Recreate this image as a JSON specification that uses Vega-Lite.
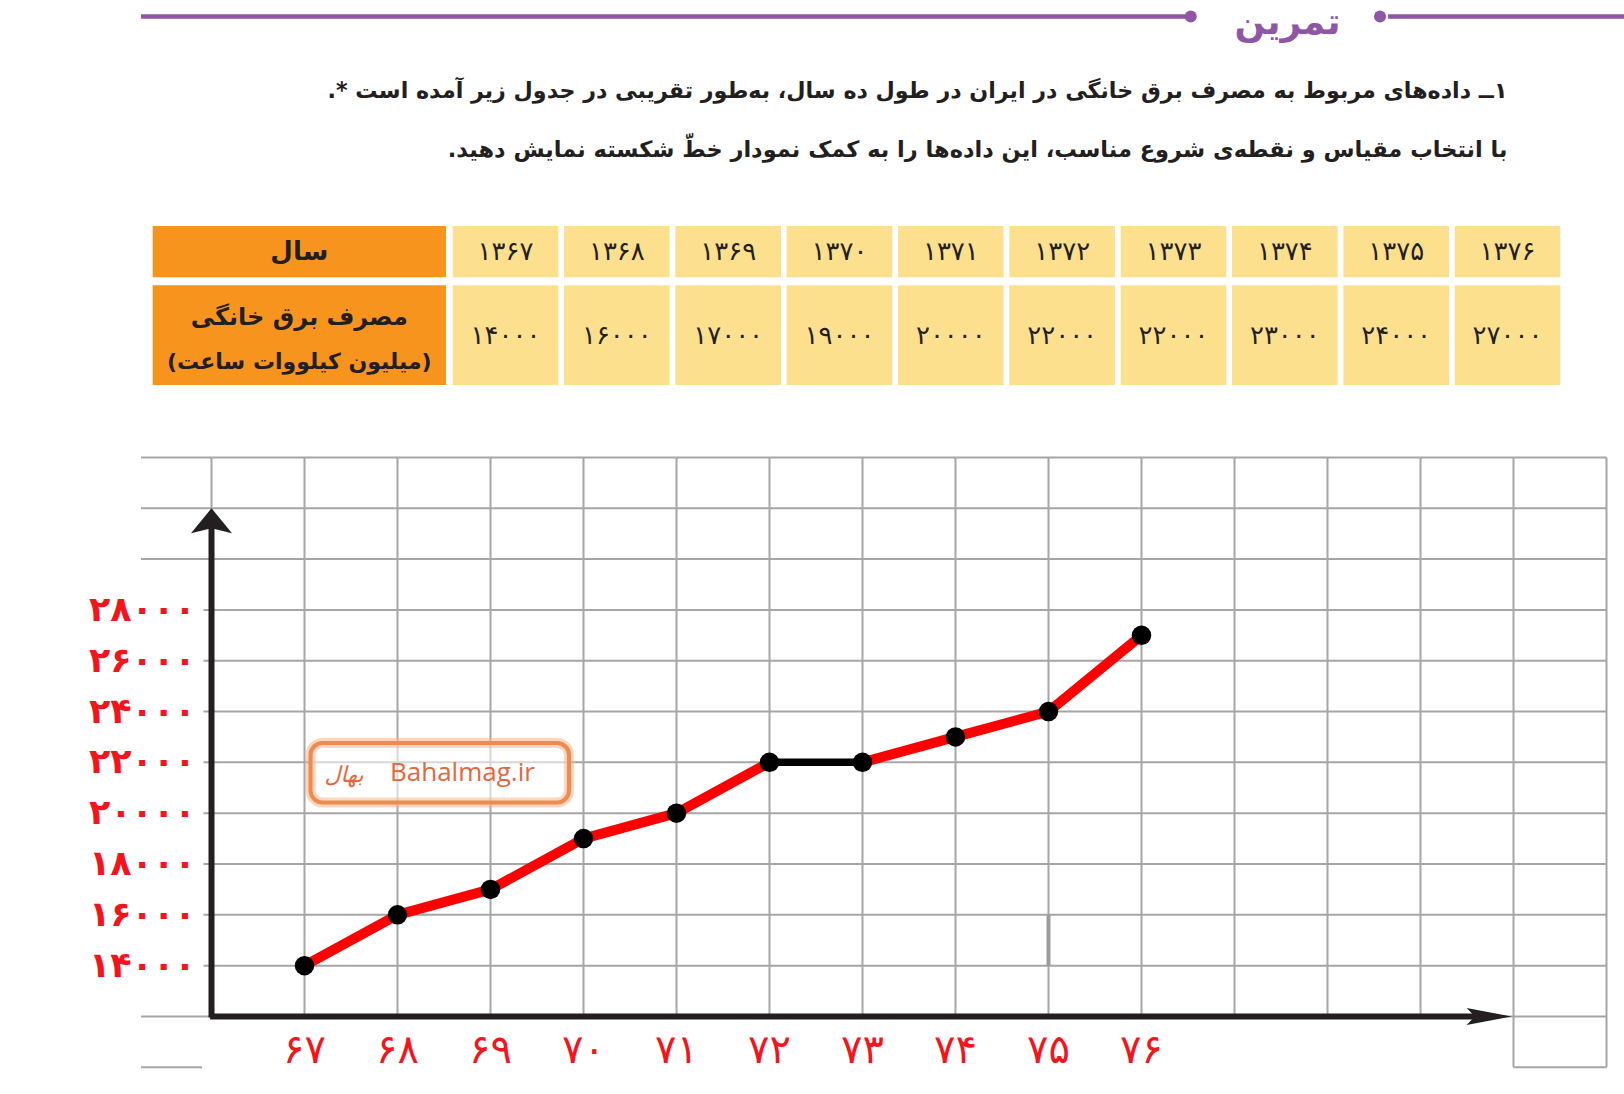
{
  "$schema": "https://vega.github.io/schema/vega-lite/v6.json",
  "width": 1624,
  "height": 1094,
  "autosize": {"type": "none"},
  "padding": 0,
  "background": "#ffffff",
  "config": {
    "view": {"stroke": null},
    "font": "DejaVu Sans",
    "locale": {"number": {"decimal": ".", "thousands": ",", "grouping": [3], "currency": ["", ""], "numerals": ["۰", "۱", "۲", "۳", "۴", "۵", "۶", "۷", "۸", "۹"]}}
  },
  "datasets": {
    "d": [
      {"yr": 1367, "kwh": 14000}, {"yr": 1368, "kwh": 16000}, {"yr": 1369, "kwh": 17000}, {"yr": 1370, "kwh": 19000}, {"yr": 1371, "kwh": 20000},
      {"yr": 1372, "kwh": 22000}, {"yr": 1373, "kwh": 22000}, {"yr": 1374, "kwh": 23000}, {"yr": 1375, "kwh": 24000}, {"yr": 1376, "kwh": 27000}
    ],
    "yt": [{"v": 10000}, {"v": 12000}, {"v": 14000}, {"v": 16000}, {"v": 18000}, {"v": 20000}, {"v": 22000}, {"v": 24000}, {"v": 26000}, {"v": 28000}, {"v": 30000}, {"v": 32000}, {"v": 34000}],
    "xt": [{"yr": 1366}, {"yr": 1367}, {"yr": 1368}, {"yr": 1369}, {"yr": 1370}, {"yr": 1371}, {"yr": 1372}, {"yr": 1373}, {"yr": 1374}, {"yr": 1375}, {"yr": 1376}, {"yr": 1377}, {"yr": 1378}, {"yr": 1379}, {"yr": 1380}, {"yr": 1381}],
    "one": [{}]
  },
  "resolve": {"scale": {"x": "independent", "y": "independent"}},
  "layer": [
    {
      "layer": [
        {"data": {"name": "one"}, "mark": {"type": "rule", "color": "#8e56a4", "strokeWidth": 4.5},
         "encoding": {"x": {"datum": 1363.726, "type": "quantitative", "scale": {"type": "linear", "domain": [1367, 1376], "range": [505.5, 1507.5], "nice": false, "zero": false, "padding": 0}, "axis": null}, "x2": {"datum": 1373.112},
                      "y": {"datum": 16.5, "type": "quantitative", "scale": {"type": "linear", "domain": [0, 1094], "range": [0, 1094], "nice": false, "zero": false, "padding": 0}, "axis": null}}},
        {"data": {"name": "one"}, "mark": {"type": "rule", "color": "#8e56a4", "strokeWidth": 4.5},
         "encoding": {"x": {"datum": 1374.927, "type": "quantitative", "scale": {"type": "linear", "domain": [1367, 1376], "range": [505.5, 1507.5], "nice": false, "zero": false, "padding": 0}, "axis": null}, "x2": {"datum": 1377.3},
                      "y": {"datum": 16.5, "type": "quantitative", "scale": {"type": "linear", "domain": [0, 1094], "range": [0, 1094], "nice": false, "zero": false, "padding": 0}, "axis": null}}},
        {"data": {"name": "one"}, "mark": {"type": "circle", "color": "#8e56a4", "opacity": 1, "size": 145},
         "encoding": {"x": {"datum": 1373.155, "type": "quantitative", "scale": {"type": "linear", "domain": [1367, 1376], "range": [505.5, 1507.5], "nice": false, "zero": false, "padding": 0}, "axis": null},
                      "y": {"datum": 16.5, "type": "quantitative", "scale": {"type": "linear", "domain": [0, 1094], "range": [0, 1094], "nice": false, "zero": false, "padding": 0}, "axis": null}}},
        {"data": {"name": "one"}, "mark": {"type": "circle", "color": "#8e56a4", "opacity": 1, "size": 145},
         "encoding": {"x": {"datum": 1374.855, "type": "quantitative", "scale": {"type": "linear", "domain": [1367, 1376], "range": [505.5, 1507.5], "nice": false, "zero": false, "padding": 0}, "axis": null},
                      "y": {"datum": 16.5, "type": "quantitative", "scale": {"type": "linear", "domain": [0, 1094], "range": [0, 1094], "nice": false, "zero": false, "padding": 0}, "axis": null}}},
        {"data": {"name": "one"}, "mark": {"type": "text", "text": "تمرین", "font": "DejaVu Sans", "fontWeight": "bold", "fontSize": 36, "color": "#8e56a4", "align": "center", "baseline": "alphabetic"},
         "encoding": {"x": {"datum": 1374.024, "type": "quantitative", "scale": {"type": "linear", "domain": [1367, 1376], "range": [505.5, 1507.5], "nice": false, "zero": false, "padding": 0}, "axis": null},
                      "y": {"datum": 34, "type": "quantitative", "scale": {"type": "linear", "domain": [0, 1094], "range": [0, 1094], "nice": false, "zero": false, "padding": 0}, "axis": null}}},
        {"data": {"name": "one"}, "mark": {"type": "text", "text": "\u200f۱ــ داده\u200cهای مربوط به مصرف برق خانگی در ایران در طول ده سال، به\u200cطور تقریبی در جدول زیر آمده است *.\u200f", "font": "DejaVu Sans", "fontWeight": "bold", "fontSize": 22.2, "color": "#231f20", "align": "right", "baseline": "middle"},
         "encoding": {"x": {"datum": 1376.0, "type": "quantitative", "scale": {"type": "linear", "domain": [1367, 1376], "range": [505.5, 1507.5], "nice": false, "zero": false, "padding": 0}, "axis": null},
                      "y": {"datum": 91, "type": "quantitative", "scale": {"type": "linear", "domain": [0, 1094], "range": [0, 1094], "nice": false, "zero": false, "padding": 0}, "axis": null}}},
        {"data": {"name": "one"}, "mark": {"type": "text", "text": "\u200fبا انتخاب مقیاس و نقطه\u200cی شروع مناسب، این داده\u200cها را به کمک نمودار خطّ شکسته نمایش دهید.\u200f", "font": "DejaVu Sans", "fontWeight": "bold", "fontSize": 22.5, "color": "#231f20", "align": "right", "baseline": "middle"},
         "encoding": {"x": {"datum": 1376.0, "type": "quantitative", "scale": {"type": "linear", "domain": [1367, 1376], "range": [505.5, 1507.5], "nice": false, "zero": false, "padding": 0}, "axis": null},
                      "y": {"datum": 150, "type": "quantitative", "scale": {"type": "linear", "domain": [0, 1094], "range": [0, 1094], "nice": false, "zero": false, "padding": 0}, "axis": null}}},
        {"data": {"name": "one"}, "mark": {"type": "rect", "color": "#f7941d"},
         "encoding": {"x": {"datum": 1363.831, "type": "quantitative", "scale": {"type": "linear", "domain": [1367, 1376], "range": [505.5, 1507.5], "nice": false, "zero": false, "padding": 0}, "axis": null}, "x2": {"datum": 1366.466},
                      "y": {"datum": 226, "type": "quantitative", "scale": {"type": "linear", "domain": [0, 1094], "range": [0, 1094], "nice": false, "zero": false, "padding": 0}, "axis": null}, "y2": {"datum": 277.3}}},
        {"data": {"name": "one"}, "mark": {"type": "rect", "color": "#f7941d"},
         "encoding": {"x": {"datum": 1363.831, "type": "quantitative", "scale": {"type": "linear", "domain": [1367, 1376], "range": [505.5, 1507.5], "nice": false, "zero": false, "padding": 0}, "axis": null}, "x2": {"datum": 1366.466},
                      "y": {"datum": 285.3, "type": "quantitative", "scale": {"type": "linear", "domain": [0, 1094], "range": [0, 1094], "nice": false, "zero": false, "padding": 0}, "axis": null}, "y2": {"datum": 385}}},
        {"data": {"name": "d"}, "mark": {"type": "bar", "orient": "vertical", "width": 105.6, "color": "#fde08e"},
         "encoding": {"x": {"field": "yr", "type": "quantitative", "scale": {"type": "linear", "domain": [1367, 1376], "range": [505.5, 1507.5], "nice": false, "zero": false, "padding": 0}, "axis": null},
                      "y": {"datum": 226, "type": "quantitative", "scale": {"type": "linear", "domain": [0, 1094], "range": [0, 1094], "nice": false, "zero": false, "padding": 0}, "axis": null}, "y2": {"datum": 277.3}}},
        {"data": {"name": "d"}, "mark": {"type": "bar", "orient": "vertical", "width": 105.6, "color": "#fde08e"},
         "encoding": {"x": {"field": "yr", "type": "quantitative", "scale": {"type": "linear", "domain": [1367, 1376], "range": [505.5, 1507.5], "nice": false, "zero": false, "padding": 0}, "axis": null},
                      "y": {"datum": 285.3, "type": "quantitative", "scale": {"type": "linear", "domain": [0, 1094], "range": [0, 1094], "nice": false, "zero": false, "padding": 0}, "axis": null}, "y2": {"datum": 385}}},
        {"data": {"name": "d"}, "mark": {"type": "text", "font": "DejaVu Sans", "fontSize": 26, "color": "#231f20", "align": "center", "baseline": "middle"},
         "encoding": {"x": {"field": "yr", "type": "quantitative", "scale": {"type": "linear", "domain": [1367, 1376], "range": [505.5, 1507.5], "nice": false, "zero": false, "padding": 0}, "axis": null},
                      "y": {"datum": 252, "type": "quantitative", "scale": {"type": "linear", "domain": [0, 1094], "range": [0, 1094], "nice": false, "zero": false, "padding": 0}, "axis": null},
                      "text": {"field": "yr", "type": "quantitative", "format": "d"}}},
        {"data": {"name": "d"}, "mark": {"type": "text", "font": "DejaVu Sans", "fontSize": 26, "color": "#231f20", "align": "center", "baseline": "middle"},
         "encoding": {"x": {"field": "yr", "type": "quantitative", "scale": {"type": "linear", "domain": [1367, 1376], "range": [505.5, 1507.5], "nice": false, "zero": false, "padding": 0}, "axis": null},
                      "y": {"datum": 336, "type": "quantitative", "scale": {"type": "linear", "domain": [0, 1094], "range": [0, 1094], "nice": false, "zero": false, "padding": 0}, "axis": null},
                      "text": {"field": "kwh", "type": "quantitative", "format": "d"}}},
        {"data": {"name": "one"}, "mark": {"type": "text", "text": "سال", "font": "DejaVu Sans", "fontWeight": "bold", "fontSize": 26, "color": "#231f20", "align": "center", "baseline": "middle"},
         "encoding": {"x": {"datum": 1365.148, "type": "quantitative", "scale": {"type": "linear", "domain": [1367, 1376], "range": [505.5, 1507.5], "nice": false, "zero": false, "padding": 0}, "axis": null},
                      "y": {"datum": 252, "type": "quantitative", "scale": {"type": "linear", "domain": [0, 1094], "range": [0, 1094], "nice": false, "zero": false, "padding": 0}, "axis": null}}},
        {"data": {"name": "one"}, "mark": {"type": "text", "text": "مصرف برق خانگی", "font": "DejaVu Sans", "fontWeight": "bold", "fontSize": 24, "color": "#231f20", "align": "center", "baseline": "middle"},
         "encoding": {"x": {"datum": 1365.148, "type": "quantitative", "scale": {"type": "linear", "domain": [1367, 1376], "range": [505.5, 1507.5], "nice": false, "zero": false, "padding": 0}, "axis": null},
                      "y": {"datum": 318, "type": "quantitative", "scale": {"type": "linear", "domain": [0, 1094], "range": [0, 1094], "nice": false, "zero": false, "padding": 0}, "axis": null}}},
        {"data": {"name": "one"}, "mark": {"type": "text", "text": "\u200f(میلیون کیلووات ساعت)\u200f", "font": "DejaVu Sans", "fontWeight": "bold", "fontSize": 22, "color": "#231f20", "align": "center", "baseline": "middle"},
         "encoding": {"x": {"datum": 1365.148, "type": "quantitative", "scale": {"type": "linear", "domain": [1367, 1376], "range": [505.5, 1507.5], "nice": false, "zero": false, "padding": 0}, "axis": null},
                      "y": {"datum": 362, "type": "quantitative", "scale": {"type": "linear", "domain": [0, 1094], "range": [0, 1094], "nice": false, "zero": false, "padding": 0}, "axis": null}}}
      ]
    },
    {
      "layer": [
        {"data": {"name": "xt"}, "transform": [{"filter": "datum.yr <= 1379"}], "mark": {"type": "rule", "color": "#a6a6a6", "strokeWidth": 2},
         "encoding": {"x": {"field": "yr", "type": "quantitative", "scale": {"type": "linear", "domain": [1366, 1381], "range": [211.5, 1606.5], "nice": false, "zero": false, "padding": 0}, "axis": null},
                      "y": {"datum": 12000, "type": "quantitative", "scale": {"type": "linear", "domain": [10000, 34000], "range": [1067.3, 457.4], "nice": false, "zero": false, "padding": 0}, "axis": null}, "y2": {"datum": 34000}}},
        {"data": {"name": "xt"}, "transform": [{"filter": "datum.yr >= 1380"}], "mark": {"type": "rule", "color": "#a6a6a6", "strokeWidth": 2},
         "encoding": {"x": {"field": "yr", "type": "quantitative", "scale": {"type": "linear", "domain": [1366, 1381], "range": [211.5, 1606.5], "nice": false, "zero": false, "padding": 0}, "axis": null},
                      "y": {"datum": 10000, "type": "quantitative", "scale": {"type": "linear", "domain": [10000, 34000], "range": [1067.3, 457.4], "nice": false, "zero": false, "padding": 0}, "axis": null}, "y2": {"datum": 34000}}},
        {"data": {"name": "yt"}, "transform": [{"filter": "datum.v >= 30000 || datum.v == 12000"}], "mark": {"type": "rule", "color": "#a6a6a6", "strokeWidth": 2},
         "encoding": {"y": {"field": "v", "type": "quantitative", "scale": {"type": "linear", "domain": [10000, 34000], "range": [1067.3, 457.4], "nice": false, "zero": false, "padding": 0}, "axis": null},
                      "x": {"datum": 1365.242, "type": "quantitative", "scale": {"type": "linear", "domain": [1366, 1381], "range": [211.5, 1606.5], "nice": false, "zero": false, "padding": 0}, "axis": null}, "x2": {"datum": 1381}}},
        {"data": {"name": "yt"}, "transform": [{"filter": "datum.v >= 14000 && datum.v <= 28000"}], "mark": {"type": "rule", "color": "#a6a6a6", "strokeWidth": 2},
         "encoding": {"y": {"field": "v", "type": "quantitative", "scale": {"type": "linear", "domain": [10000, 34000], "range": [1067.3, 457.4], "nice": false, "zero": false, "padding": 0}, "axis": null},
                      "x": {"datum": 1365.914, "type": "quantitative", "scale": {"type": "linear", "domain": [1366, 1381], "range": [211.5, 1606.5], "nice": false, "zero": false, "padding": 0}, "axis": null}, "x2": {"datum": 1381}}},
        {"data": {"name": "yt"}, "transform": [{"filter": "datum.v == 10000"}], "mark": {"type": "rule", "color": "#a6a6a6", "strokeWidth": 2},
         "encoding": {"y": {"field": "v", "type": "quantitative", "scale": {"type": "linear", "domain": [10000, 34000], "range": [1067.3, 457.4], "nice": false, "zero": false, "padding": 0}, "axis": null},
                      "x": {"datum": 1365.242, "type": "quantitative", "scale": {"type": "linear", "domain": [1366, 1381], "range": [211.5, 1606.5], "nice": false, "zero": false, "padding": 0}, "axis": null}, "x2": {"datum": 1365.898}}},
        {"data": {"name": "yt"}, "transform": [{"filter": "datum.v == 10000"}], "mark": {"type": "rule", "color": "#a6a6a6", "strokeWidth": 2},
         "encoding": {"y": {"field": "v", "type": "quantitative", "scale": {"type": "linear", "domain": [10000, 34000], "range": [1067.3, 457.4], "nice": false, "zero": false, "padding": 0}, "axis": null},
                      "x": {"datum": 1380, "type": "quantitative", "scale": {"type": "linear", "domain": [1366, 1381], "range": [211.5, 1606.5], "nice": false, "zero": false, "padding": 0}, "axis": null}, "x2": {"datum": 1381}}},
        {"data": {"name": "one"}, "mark": {"type": "rule", "color": "#9c9c9c", "strokeWidth": 4},
         "encoding": {"x": {"datum": 1375, "type": "quantitative", "scale": {"type": "linear", "domain": [1366, 1381], "range": [211.5, 1606.5], "nice": false, "zero": false, "padding": 0}, "axis": null},
                      "y": {"datum": 14000, "type": "quantitative", "scale": {"type": "linear", "domain": [10000, 34000], "range": [1067.3, 457.4], "nice": false, "zero": false, "padding": 0}, "axis": null}, "y2": {"datum": 16000}}},
        {"data": {"name": "one"}, "mark": {"type": "rect", "fill": "#ffffff", "fillOpacity": 0.55, "stroke": "#f7b48c", "strokeWidth": 10, "strokeOpacity": 0.55, "cornerRadius": 12},
         "encoding": {"x": {"datum": 1367.065, "type": "quantitative", "scale": {"type": "linear", "domain": [1366, 1381], "range": [211.5, 1606.5], "nice": false, "zero": false, "padding": 0}, "axis": null}, "x2": {"datum": 1369.844},
                      "y": {"datum": 22762, "type": "quantitative", "scale": {"type": "linear", "domain": [10000, 34000], "range": [1067.3, 457.4], "nice": false, "zero": false, "padding": 0}, "axis": null}, "y2": {"datum": 20420}}},
        {"data": {"name": "one"}, "mark": {"type": "rect", "fill": "transparent", "stroke": "#f08a4e", "strokeWidth": 4, "cornerRadius": 12},
         "encoding": {"x": {"datum": 1367.065, "type": "quantitative", "scale": {"type": "linear", "domain": [1366, 1381], "range": [211.5, 1606.5], "nice": false, "zero": false, "padding": 0}, "axis": null}, "x2": {"datum": 1369.844},
                      "y": {"datum": 22762, "type": "quantitative", "scale": {"type": "linear", "domain": [10000, 34000], "range": [1067.3, 457.4], "nice": false, "zero": false, "padding": 0}, "axis": null}, "y2": {"datum": 20420}}},
        {"data": {"name": "one"}, "mark": {"type": "text", "text": "Bahalmag.ir", "font": "Open Sans", "fontSize": 26, "color": "#e3673d", "align": "left", "baseline": "middle"},
         "encoding": {"x": {"datum": 1367.919, "type": "quantitative", "scale": {"type": "linear", "domain": [1366, 1381], "range": [211.5, 1606.5], "nice": false, "zero": false, "padding": 0}, "axis": null},
                      "y": {"datum": 21569, "type": "quantitative", "scale": {"type": "linear", "domain": [10000, 34000], "range": [1067.3, 457.4], "nice": false, "zero": false, "padding": 0}, "axis": null}}},
        {"data": {"name": "one"}, "mark": {"type": "text", "text": "بهال", "font": "DejaVu Sans", "fontSize": 22, "fontStyle": "italic", "color": "#e3673d", "align": "center", "baseline": "middle"},
         "encoding": {"x": {"datum": 1367.425, "type": "quantitative", "scale": {"type": "linear", "domain": [1366, 1381], "range": [211.5, 1606.5], "nice": false, "zero": false, "padding": 0}, "axis": null},
                      "y": {"datum": 21500, "type": "quantitative", "scale": {"type": "linear", "domain": [10000, 34000], "range": [1067.3, 457.4], "nice": false, "zero": false, "padding": 0}, "axis": null}}},
        {"data": {"name": "d"}, "transform": [{"filter": "datum.yr <= 1372"}], "mark": {"type": "line", "color": "#ff0000", "strokeWidth": 10, "strokeCap": "round", "strokeJoin": "round"},
         "encoding": {"x": {"field": "yr", "type": "quantitative", "scale": {"type": "linear", "domain": [1366, 1381], "range": [211.5, 1606.5], "nice": false, "zero": false, "padding": 0}, "axis": null},
                      "y": {"field": "kwh", "type": "quantitative", "scale": {"type": "linear", "domain": [10000, 34000], "range": [1067.3, 457.4], "nice": false, "zero": false, "padding": 0}, "axis": null}}},
        {"data": {"name": "d"}, "transform": [{"filter": "datum.yr >= 1373"}], "mark": {"type": "line", "color": "#ff0000", "strokeWidth": 10, "strokeCap": "round", "strokeJoin": "round"},
         "encoding": {"x": {"field": "yr", "type": "quantitative", "scale": {"type": "linear", "domain": [1366, 1381], "range": [211.5, 1606.5], "nice": false, "zero": false, "padding": 0}, "axis": null},
                      "y": {"field": "kwh", "type": "quantitative", "scale": {"type": "linear", "domain": [10000, 34000], "range": [1067.3, 457.4], "nice": false, "zero": false, "padding": 0}, "axis": null}}},
        {"data": {"name": "d"}, "transform": [{"filter": "datum.yr >= 1372 && datum.yr <= 1373"}], "mark": {"type": "line", "color": "#000000", "strokeWidth": 7.5},
         "encoding": {"x": {"field": "yr", "type": "quantitative", "scale": {"type": "linear", "domain": [1366, 1381], "range": [211.5, 1606.5], "nice": false, "zero": false, "padding": 0}, "axis": null},
                      "y": {"field": "kwh", "type": "quantitative", "scale": {"type": "linear", "domain": [10000, 34000], "range": [1067.3, 457.4], "nice": false, "zero": false, "padding": 0}, "axis": null}}},
        {"data": {"name": "one"}, "mark": {"type": "rule", "color": "#231f20", "strokeWidth": 6},
         "encoding": {"x": {"datum": 1366, "type": "quantitative", "scale": {"type": "linear", "domain": [1366, 1381], "range": [211.5, 1606.5], "nice": false, "zero": false, "padding": 0}, "axis": null},
                      "y": {"datum": 11960, "type": "quantitative", "scale": {"type": "linear", "domain": [10000, 34000], "range": [1067.3, 457.4], "nice": false, "zero": false, "padding": 0}, "axis": null}, "y2": {"datum": 31300}}},
        {"data": {"name": "one"}, "mark": {"type": "rule", "color": "#231f20", "strokeWidth": 6},
         "encoding": {"x": {"datum": 1365.985, "type": "quantitative", "scale": {"type": "linear", "domain": [1366, 1381], "range": [211.5, 1606.5], "nice": false, "zero": false, "padding": 0}, "axis": null}, "x2": {"datum": 1379.7},
                      "y": {"datum": 12000, "type": "quantitative", "scale": {"type": "linear", "domain": [10000, 34000], "range": [1067.3, 457.4], "nice": false, "zero": false, "padding": 0}, "axis": null}}},
        {"data": {"name": "one"}, "mark": {"type": "point", "shape": "M0,0L1,1.22L0,0.98L-1,1.22Z", "filled": true, "size": 1681, "color": "#231f20", "opacity": 1, "strokeWidth": 0},
         "encoding": {"x": {"datum": 1366, "type": "quantitative", "scale": {"type": "linear", "domain": [1366, 1381], "range": [211.5, 1606.5], "nice": false, "zero": false, "padding": 0}, "axis": null},
                      "y": {"datum": 32000, "type": "quantitative", "scale": {"type": "linear", "domain": [10000, 34000], "range": [1067.3, 457.4], "nice": false, "zero": false, "padding": 0}, "axis": null}}},
        {"data": {"name": "one"}, "mark": {"type": "point", "shape": "M0,0L-1,-0.19L-0.82,0L-1,0.19Z", "filled": true, "size": 8100, "color": "#231f20", "opacity": 1, "strokeWidth": 0},
         "encoding": {"x": {"datum": 1379.98, "type": "quantitative", "scale": {"type": "linear", "domain": [1366, 1381], "range": [211.5, 1606.5], "nice": false, "zero": false, "padding": 0}, "axis": null},
                      "y": {"datum": 12000, "type": "quantitative", "scale": {"type": "linear", "domain": [10000, 34000], "range": [1067.3, 457.4], "nice": false, "zero": false, "padding": 0}, "axis": null}}},
        {"data": {"name": "d"}, "mark": {"type": "circle", "color": "#000000", "opacity": 1, "size": 380},
         "encoding": {"x": {"field": "yr", "type": "quantitative", "scale": {"type": "linear", "domain": [1366, 1381], "range": [211.5, 1606.5], "nice": false, "zero": false, "padding": 0}, "axis": null},
                      "y": {"field": "kwh", "type": "quantitative", "scale": {"type": "linear", "domain": [10000, 34000], "range": [1067.3, 457.4], "nice": false, "zero": false, "padding": 0}, "axis": null}}},
        {"data": {"name": "yt"}, "transform": [{"filter": "datum.v >= 14000 && datum.v <= 28000"}], "mark": {"type": "text", "font": "DejaVu Sans", "fontWeight": "bold", "fontSize": 35, "color": "#f5141c", "align": "right", "baseline": "middle"},
         "encoding": {"x": {"datum": 1365.83, "type": "quantitative", "scale": {"type": "linear", "domain": [1366, 1381], "range": [211.5, 1606.5], "nice": false, "zero": false, "padding": 0}, "axis": null},
                      "y": {"field": "v", "type": "quantitative", "scale": {"type": "linear", "domain": [10000, 34000], "range": [1067.3, 457.4], "nice": false, "zero": false, "padding": 0}, "axis": null},
                      "text": {"field": "v", "type": "quantitative", "format": "d"}}},
        {"data": {"name": "d"}, "mark": {"type": "text", "font": "DejaVu Sans", "fontSize": 40, "color": "#f5141c", "align": "center", "baseline": "middle"},
         "encoding": {"x": {"field": "yr", "type": "quantitative", "scale": {"type": "linear", "domain": [1366, 1381], "range": [211.5, 1606.5], "nice": false, "zero": false, "padding": 0}, "axis": null},
                      "y": {"datum": 10641, "type": "quantitative", "scale": {"type": "linear", "domain": [10000, 34000], "range": [1067.3, 457.4], "nice": false, "zero": false, "padding": 0}, "axis": null},
                      "text": {"value": {"expr": "slice(format(datum.yr, 'd'), 2)"}}}}
      ]
    }
  ]
}
